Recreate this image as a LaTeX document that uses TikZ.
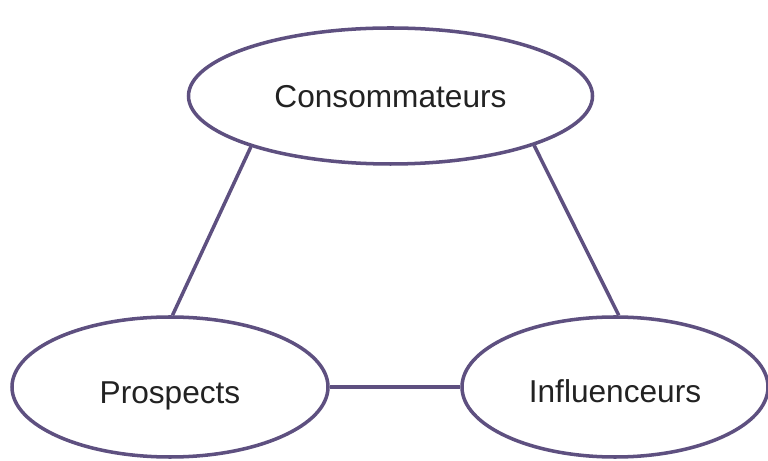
\documentclass[tikz,border=0pt]{standalone}
\usepackage{fontspec}
\setmainfont{Liberation Sans}
\usepackage{tikz}
\usetikzlibrary{shapes,positioning,backgrounds}
\definecolor{edgepurple}{RGB}{94,80,128}
\definecolor{labelgray}{RGB}{34,34,34}

\begin{document}
\begin{tikzpicture}[-,auto,node distance=5.82cm,
  group/.style={ellipse,draw=edgepurple,line width=2pt,fill=white,inner sep=0pt,
    text=labelgray,text depth=0pt,font=\fontsize{18}{20}\selectfont},
  link/.style={draw=edgepurple,line width=2pt}]
  \useasboundingbox (0,0) rectangle (15.36,-9.22);
  % Groups
  \node[group,minimum width=8.08cm,minimum height=2.72cm] (conso)     at (7.81,-1.92)                 {Consommateurs};
  \node[group,minimum width=6.32cm,minimum height=2.8cm,text height=0.66cm]  (prospects) [below of=conso,xshift=-4.41cm] {Prospects};
  \node[group,minimum width=6.12cm,minimum height=2.8cm,text height=0.62cm]  (influ)     [below of=conso,xshift= 4.49cm] {Influenceurs};
  % Links
  \path
  (conso.200)      edge[link] (prospects.88)
  (conso.341)      edge[link] (influ.87)
  (prospects.east) edge[link] (influ.west);
\end{tikzpicture}
\end{document}
